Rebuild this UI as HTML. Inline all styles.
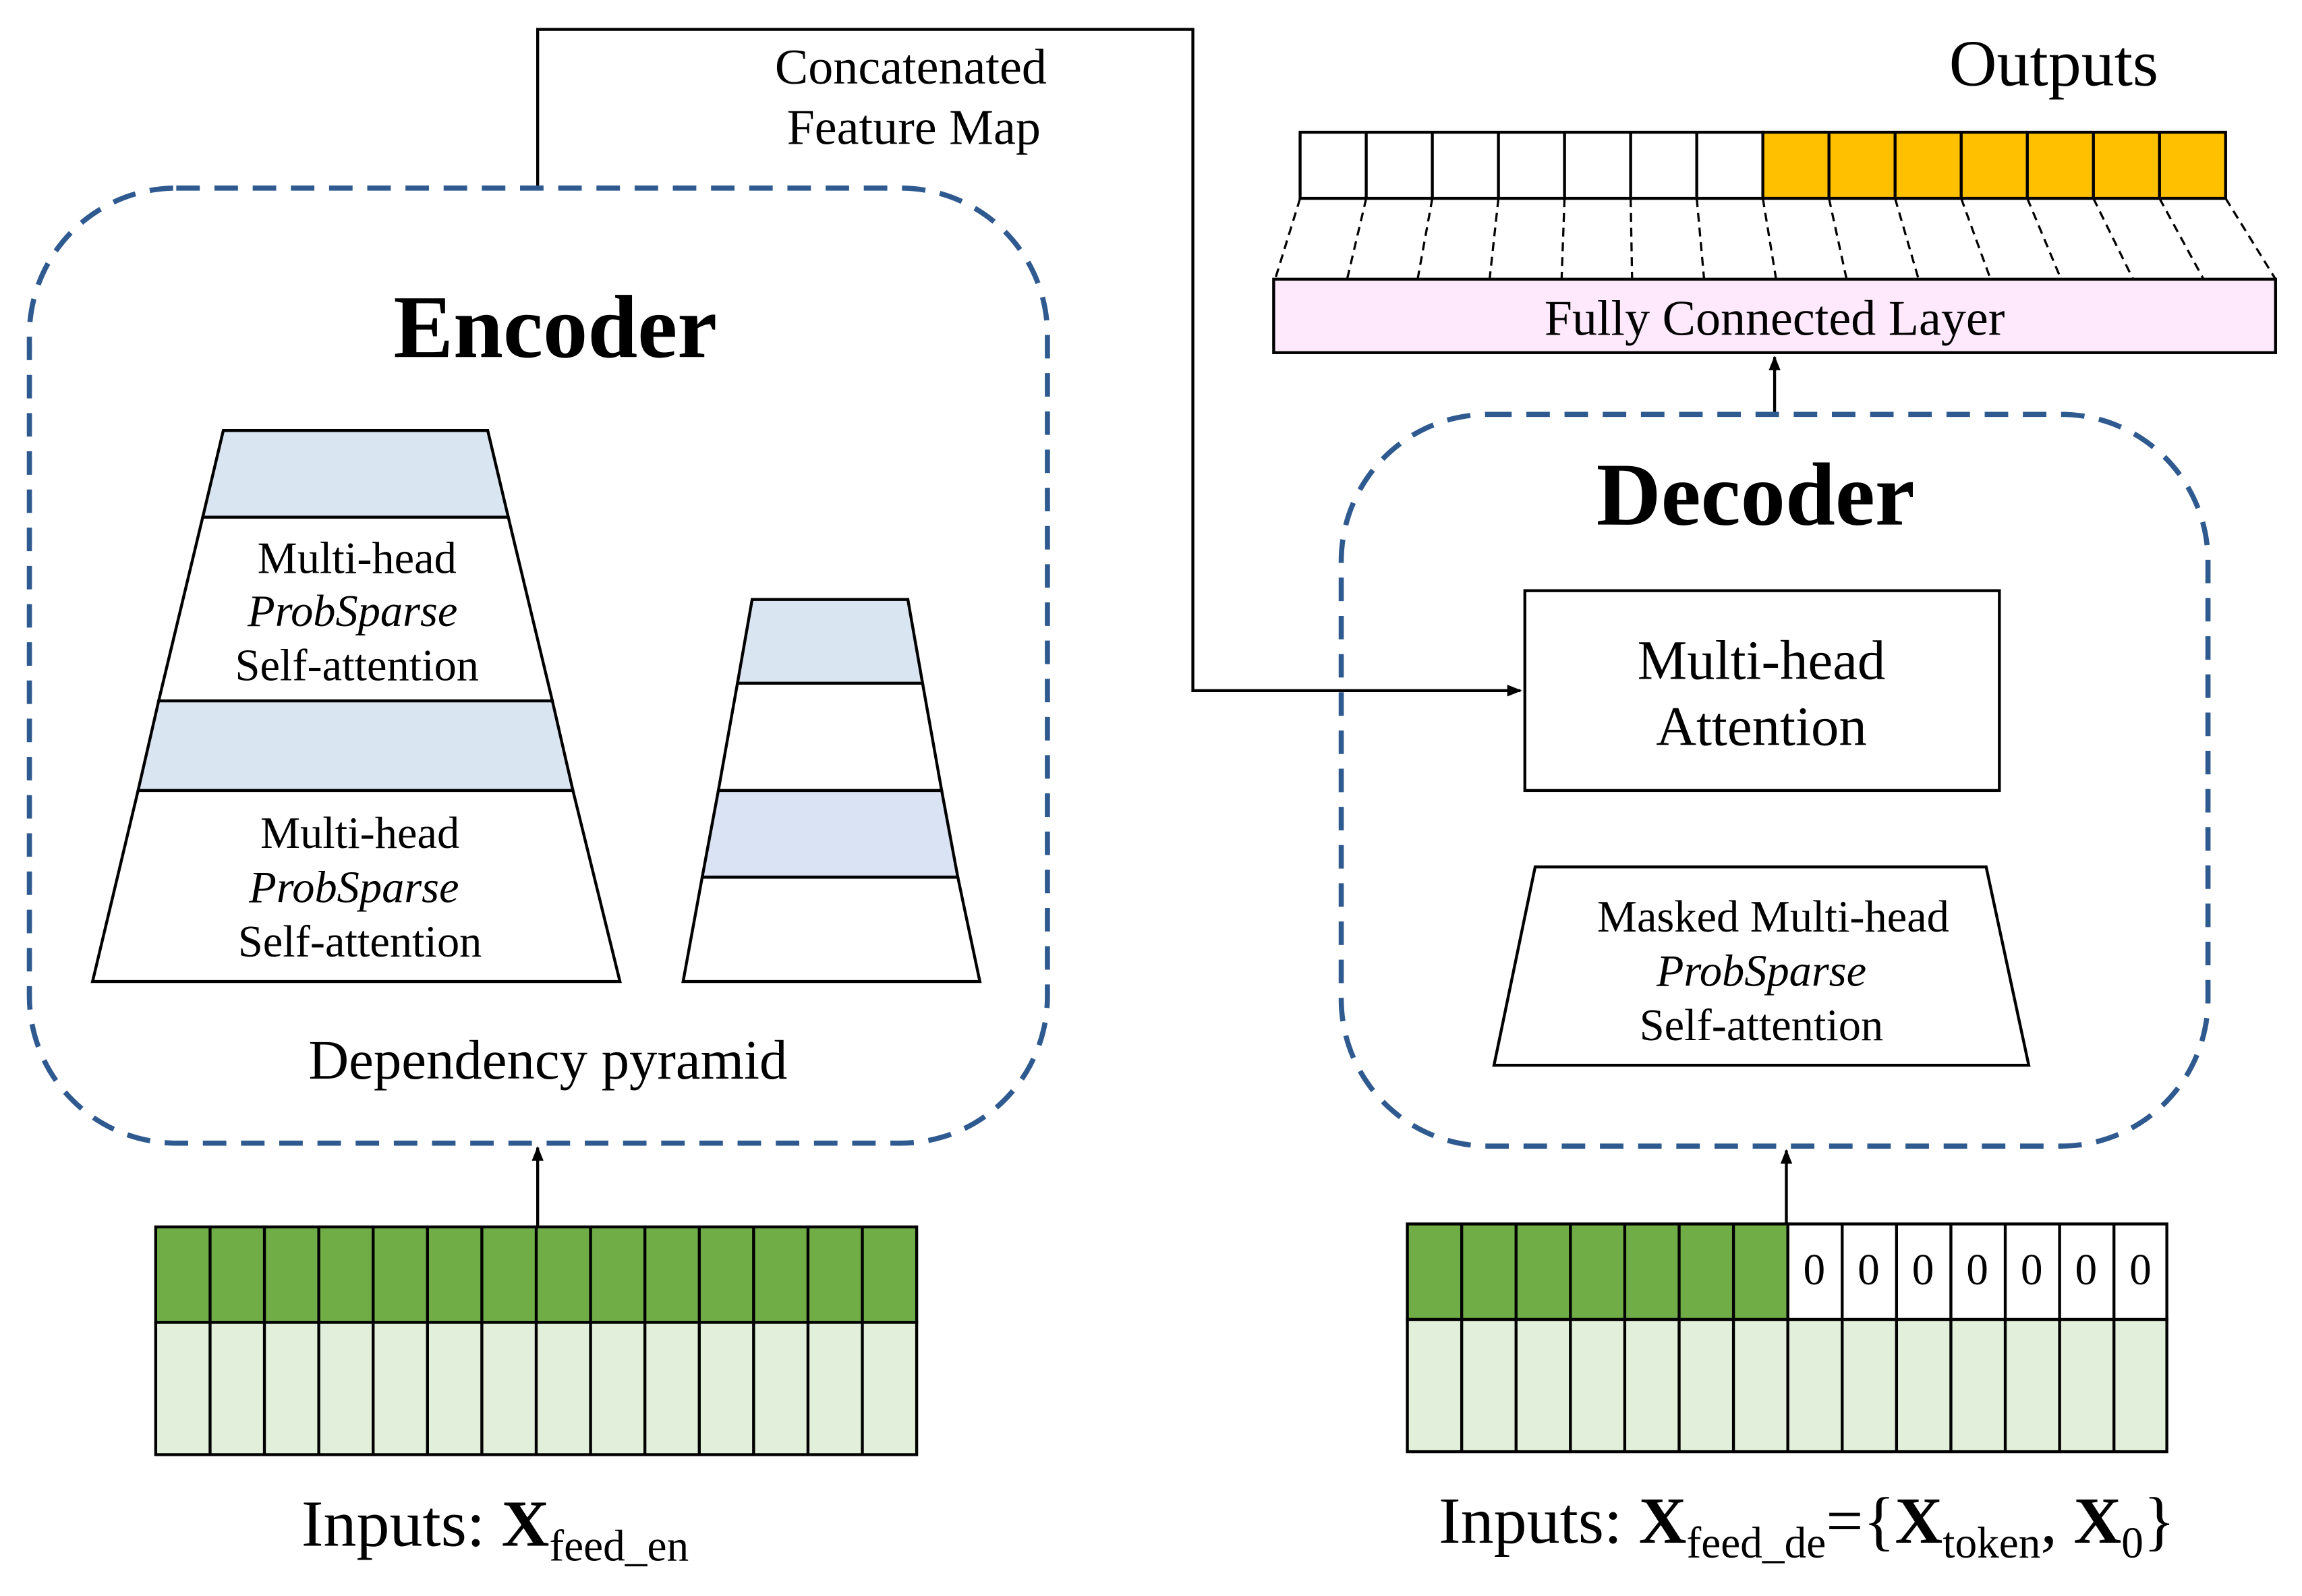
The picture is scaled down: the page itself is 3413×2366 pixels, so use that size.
<!DOCTYPE html>
<html><head><meta charset="utf-8"><style>html,body{margin:0;padding:0;background:#fff}svg{display:block}</style></head>
<body>
<svg width="3413" height="2366" viewBox="0 0 1567 1086.2" preserveAspectRatio="none" xmlns="http://www.w3.org/2000/svg" font-family="Liberation Serif, serif">
<defs><marker id="a" markerWidth="10" markerHeight="10" refX="9" refY="5" orient="auto" markerUnits="userSpaceOnUse"><path d="M0,1 L10,5 L0,9 z" fill="#000"/></marker></defs>
<polyline points="366,128 366,20 812,20 812,470 1035,470" fill="none" stroke="#000" stroke-width="2" marker-end="url(#a)"/>
<text x="620" y="57" font-size="34" text-anchor="middle">Concatenated</text>
<text x="622" y="98" font-size="34" text-anchor="middle">Feature Map</text>
<rect x="20" y="128" width="693" height="650" rx="100" fill="none" stroke="#2f5a8f" stroke-width="3.5" stroke-dasharray="16,10"/>
<text x="378" y="243" font-size="61" font-weight="bold" text-anchor="middle">Encoder</text>
<g stroke="#000" stroke-width="2">
<polygon points="152,293 332,293 346,352 138,352" fill="#dae5f2"/>
<polygon points="138,352 346,352 376,477 108,477" fill="#fff"/>
<polygon points="108,477 376,477 390,538 94,538" fill="#dae5f2"/>
<polygon points="94,538 390,538 422,668 63,668" fill="#fff"/>
<polygon points="512,408 618,408 628,465 502,465" fill="#dae5f2"/>
<polygon points="502,465 628,465 641,538 489,538" fill="#fff"/>
<polygon points="489,538 641,538 652,597 478,597" fill="#dae3f3"/>
<polygon points="478,597 652,597 667,668 465,668" fill="#fff"/>
</g>
<g font-size="30.5" text-anchor="middle">
<text x="243" y="390">Multi-head</text><text x="240" y="426" font-style="italic">ProbSparse</text><text x="243" y="463">Self-attention</text>
<text x="245" y="577">Multi-head</text><text x="241" y="614" font-style="italic">ProbSparse</text><text x="245" y="651">Self-attention</text>
</g>
<text x="373" y="734" font-size="38" text-anchor="middle">Dependency pyramid</text>
<line x1="366" y1="835" x2="366" y2="781" stroke="#000" stroke-width="2" marker-end="url(#a)"/>
<g stroke="#000" stroke-width="2">
<rect x="106" y="835" width="518" height="65" fill="#70ad47"/>
<rect x="106" y="900" width="518" height="90" fill="#e2efda"/>
<path d="M143,835V990M180,835V990M217,835V990M254,835V990M291,835V990M328,835V990M365,835V990M402,835V990M439,835V990M476,835V990M513,835V990M550,835V990M587,835V990"/>
</g>
<text x="337" y="1052" font-size="45" text-anchor="middle">Inputs: <tspan font-weight="bold">X</tspan><tspan font-size="30" dy="10">feed_en</tspan></text>
<text x="1398" y="58" font-size="45" text-anchor="middle">Outputs</text>
<g stroke="#000" stroke-width="2">
<rect x="885" y="90" width="315" height="45" fill="#fff"/>
<rect x="1200" y="90" width="315" height="45" fill="#ffc000"/>
<path d="M930,90V135M975,90V135M1020,90V135M1065,90V135M1110,90V135M1155,90V135M1245,90V135M1290,90V135M1335,90V135M1380,90V135M1425,90V135M1470,90V135"/>
</g>
<g stroke="#000" stroke-width="1.5" stroke-dasharray="6,4">
<path d="M885,135L868,190M930,135L917,190M975,135L965,190M1020,135L1014,190M1065,135L1063,190M1110,135L1111,190M1155,135L1160,190M1200,135L1209,190M1245,135L1257,190M1290,135L1306,190M1335,135L1355,190M1380,135L1403,190M1425,135L1452,190M1470,135L1500,190M1515,135L1549,190"/>
</g>
<rect x="867" y="190" width="682" height="50" fill="#fde9fb" stroke="#000" stroke-width="2"/>
<text x="1208" y="228" font-size="34" text-anchor="middle">Fully Connected Layer</text>
<line x1="1208" y1="282" x2="1208" y2="243" stroke="#000" stroke-width="2" marker-end="url(#a)"/>
<rect x="913" y="282" width="590" height="498" rx="100" fill="none" stroke="#2f5a8f" stroke-width="3.5" stroke-dasharray="16,10"/>
<text x="1195" y="357" font-size="61" font-weight="bold" text-anchor="middle">Decoder</text>
<rect x="1038" y="402" width="323" height="136" fill="#fff" stroke="#000" stroke-width="2"/>
<text x="1199" y="462" font-size="38" text-anchor="middle">Multi-head</text>
<text x="1199" y="507" font-size="38" text-anchor="middle">Attention</text>
<polygon points="1045,590 1352,590 1381,725 1017,725" fill="#fff" stroke="#000" stroke-width="2"/>
<g font-size="30.5" text-anchor="middle">
<text x="1207" y="634">Masked Multi-head</text><text x="1199" y="671" font-style="italic">ProbSparse</text><text x="1199" y="708">Self-attention</text>
</g>
<line x1="1216" y1="833" x2="1216" y2="783" stroke="#000" stroke-width="2" marker-end="url(#a)"/>
<g stroke="#000" stroke-width="2">
<rect x="958" y="833" width="259" height="65" fill="#70ad47"/>
<rect x="1217" y="833" width="258" height="65" fill="#fff"/>
<rect x="958" y="898" width="517" height="90" fill="#e2efda"/>
<path d="M995,833V988M1032,833V988M1069,833V988M1106,833V988M1143,833V988M1180,833V988M1217,833V988M1254,833V988M1291,833V988M1328,833V988M1365,833V988M1402,833V988M1439,833V988"/>
</g>
<g font-size="30" text-anchor="middle">
<text x="1235" y="874">0</text><text x="1272" y="874">0</text><text x="1309" y="874">0</text><text x="1346" y="874">0</text><text x="1383" y="874">0</text><text x="1420" y="874">0</text><text x="1457" y="874">0</text>
</g>
<text x="1230" y="1050" font-size="45" text-anchor="middle">Inputs: <tspan font-weight="bold">X</tspan><tspan font-size="30" dy="10">feed_de</tspan><tspan dy="-10">={</tspan><tspan font-weight="bold">X</tspan><tspan font-size="30" dy="10">token</tspan><tspan dy="-10">, </tspan><tspan font-weight="bold">X</tspan><tspan font-size="30" dy="10">0</tspan><tspan dy="-10">}</tspan></text>
</svg>
</body></html>
